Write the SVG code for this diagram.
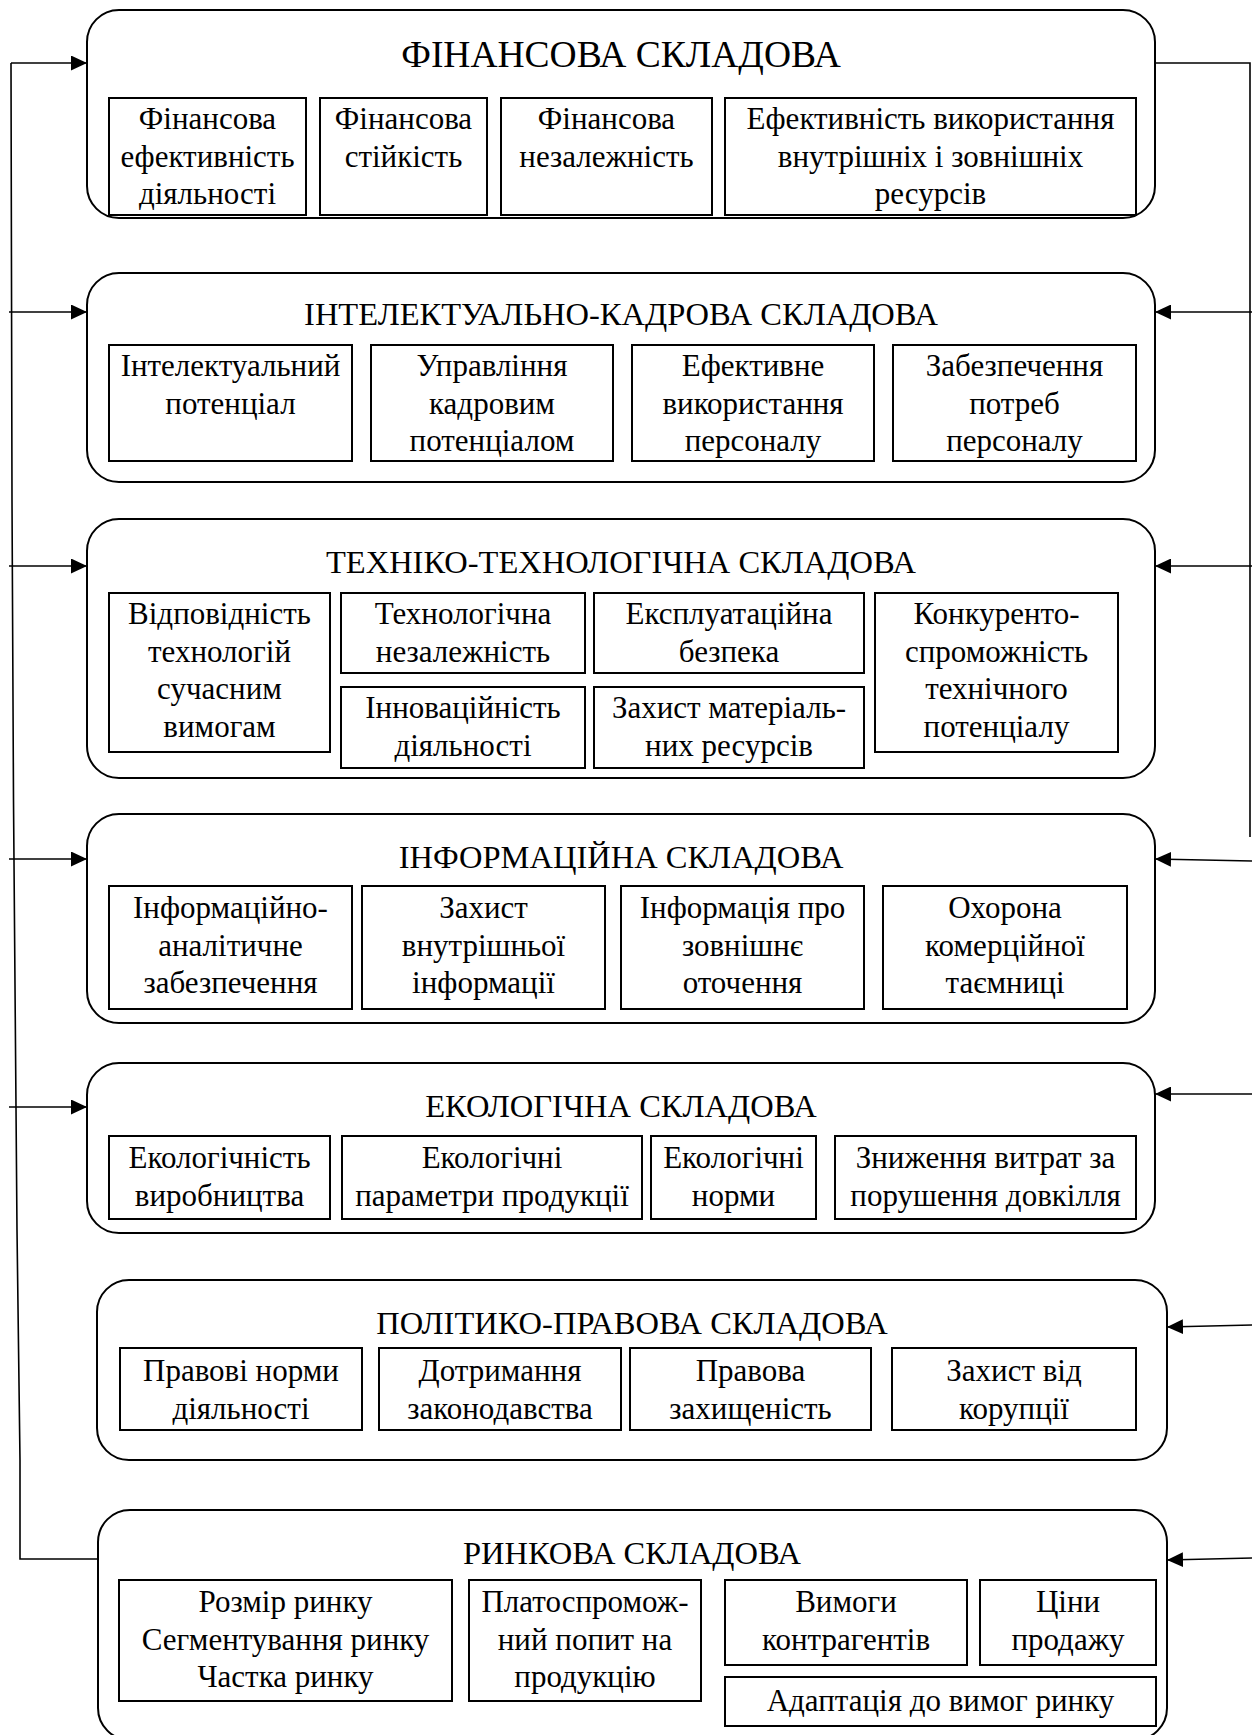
<svg xmlns="http://www.w3.org/2000/svg" width="1252" height="1735" viewBox="0 0 1252 1735">
  <style>
    .outer { fill: none; stroke: #000; stroke-width: 2; }
    .cell { fill: #fff; stroke: #000; stroke-width: 2; }
    .title { font-family: "Liberation Serif", "Times New Roman", serif; font-size: 32.5px; text-anchor: middle; fill: #000; }
    .t1 { font-size: 37.5px; }
    .txt { font-family: "Liberation Serif", "Times New Roman", serif; font-size: 31px; text-anchor: middle; fill: #000; }
    .wire { fill: none; stroke: #000; stroke-width: 1.6; }
  </style>
  <defs>
    <marker id="arrow" markerUnits="userSpaceOnUse" markerWidth="17" markerHeight="15" refX="16" refY="7.5" orient="auto">
      <path d="M0,0 L16,7.5 L0,15 z" fill="#000"/>
    </marker>
  </defs>
  <rect width="1252" height="1735" fill="#fff"/>

  <!-- connectors -->
  <g id="connectors">
    <polyline class="wire" points="11,63 12,500 13.5,800 17,1230 20,1460 20,1559 98,1559"/>
    <line class="wire" x1="11" y1="63" x2="87" y2="63" marker-end="url(#arrow)"/>
    <line class="wire" x1="9" y1="312" x2="87" y2="312" marker-end="url(#arrow)"/>
    <line class="wire" x1="9" y1="566" x2="87" y2="566" marker-end="url(#arrow)"/>
    <line class="wire" x1="9" y1="859" x2="87" y2="859" marker-end="url(#arrow)"/>
    <line class="wire" x1="9" y1="1107" x2="87" y2="1107" marker-end="url(#arrow)"/>

    <polyline class="wire" points="1155,63 1250,63 1250,837"/>
    <line class="wire" x1="1252" y1="312" x2="1155" y2="312" marker-end="url(#arrow)"/>
    <line class="wire" x1="1252" y1="566" x2="1155" y2="566" marker-end="url(#arrow)"/>
    <line class="wire" x1="1252" y1="861" x2="1155" y2="859" marker-end="url(#arrow)"/>
    <line class="wire" x1="1252" y1="1094" x2="1155" y2="1094" marker-end="url(#arrow)"/>
    <line class="wire" x1="1252" y1="1325" x2="1167" y2="1327" marker-end="url(#arrow)"/>
    <line class="wire" x1="1252" y1="1558" x2="1167" y2="1560" marker-end="url(#arrow)"/>
  </g>

  <!-- financial component -->
  <g id="financial">
    <rect class="outer" x="87" y="10" width="1068" height="208" rx="32"/>
    <text class="title t1" x="621" y="67">ФІНАНСОВА СКЛАДОВА</text>
    <rect class="cell" x="109" y="98" width="197" height="117"/>
    <text class="txt" x="207.5" y="129"><tspan x="207.5">Фінансова</tspan><tspan x="207.5" dy="37.5">ефективність</tspan><tspan x="207.5" dy="37.5">діяльності</tspan></text>
    <rect class="cell" x="320" y="98" width="167" height="117"/>
    <text class="txt" x="403.5" y="129"><tspan x="403.5">Фінансова</tspan><tspan x="403.5" dy="37.5">стійкість</tspan></text>
    <rect class="cell" x="501" y="98" width="211" height="117"/>
    <text class="txt" x="606.5" y="129"><tspan x="606.5">Фінансова</tspan><tspan x="606.5" dy="37.5">незалежність</tspan></text>
    <rect class="cell" x="725" y="98" width="411" height="117"/>
    <text class="txt" x="930.5" y="129"><tspan x="930.5">Ефективність використання</tspan><tspan x="930.5" dy="37.5">внутрішніх і зовнішніх</tspan><tspan x="930.5" dy="37.5">ресурсів</tspan></text>
  </g>

  <!-- intellectual and staff component -->
  <g id="personnel">
    <rect class="outer" x="87" y="273" width="1068" height="209" rx="32"/>
    <text class="title" x="621" y="325">ІНТЕЛЕКТУАЛЬНО-КАДРОВА СКЛАДОВА</text>
    <rect class="cell" x="109" y="345" width="243" height="116"/>
    <text class="txt" x="230.5" y="376"><tspan x="230.5">Інтелектуальний</tspan><tspan x="230.5" dy="37.5">потенціал</tspan></text>
    <rect class="cell" x="371" y="345" width="242" height="116"/>
    <text class="txt" x="492" y="376"><tspan x="492">Управління</tspan><tspan x="492" dy="37.5">кадровим</tspan><tspan x="492" dy="37.5">потенціалом</tspan></text>
    <rect class="cell" x="632" y="345" width="242" height="116"/>
    <text class="txt" x="753" y="376"><tspan x="753">Ефективне</tspan><tspan x="753" dy="37.5">використання</tspan><tspan x="753" dy="37.5">персоналу</tspan></text>
    <rect class="cell" x="893" y="345" width="243" height="116"/>
    <text class="txt" x="1014.5" y="376"><tspan x="1014.5">Забезпечення</tspan><tspan x="1014.5" dy="37.5">потреб</tspan><tspan x="1014.5" dy="37.5">персоналу</tspan></text>
  </g>

  <!-- technical and technological component -->
  <g id="technical">
    <rect class="outer" x="87" y="519" width="1068" height="259" rx="32"/>
    <text class="title" x="621" y="573">ТЕХНІКО-ТЕХНОЛОГІЧНА СКЛАДОВА</text>
    <rect class="cell" x="109" y="593" width="221" height="159"/>
    <text class="txt" x="219.5" y="624"><tspan x="219.5">Відповідність</tspan><tspan x="219.5" dy="37.5">технологій</tspan><tspan x="219.5" dy="37.5">сучасним</tspan><tspan x="219.5" dy="37.5">вимогам</tspan></text>
    <rect class="cell" x="341" y="593" width="244" height="80"/>
    <text class="txt" x="463" y="624"><tspan x="463">Технологічна</tspan><tspan x="463" dy="37.5">незалежність</tspan></text>
    <rect class="cell" x="341" y="687" width="244" height="81"/>
    <text class="txt" x="463" y="718"><tspan x="463">Інноваційність</tspan><tspan x="463" dy="37.5">діяльності</tspan></text>
    <rect class="cell" x="594" y="593" width="270" height="80"/>
    <text class="txt" x="729" y="624"><tspan x="729">Експлуатаційна</tspan><tspan x="729" dy="37.5">безпека</tspan></text>
    <rect class="cell" x="594" y="687" width="270" height="81"/>
    <text class="txt" x="729" y="718"><tspan x="729">Захист матеріаль-</tspan><tspan x="729" dy="37.5">них ресурсів</tspan></text>
    <rect class="cell" x="875" y="593" width="243" height="159"/>
    <text class="txt" x="996.5" y="624"><tspan x="996.5">Конкуренто-</tspan><tspan x="996.5" dy="37.5">спроможність</tspan><tspan x="996.5" dy="37.5">технічного</tspan><tspan x="996.5" dy="37.5">потенціалу</tspan></text>
  </g>

  <!-- information component -->
  <g id="information">
    <rect class="outer" x="87" y="814" width="1068" height="209" rx="32"/>
    <text class="title" x="621" y="868">ІНФОРМАЦІЙНА СКЛАДОВА</text>
    <rect class="cell" x="109" y="886" width="243" height="123"/>
    <text class="txt" x="230.5" y="918"><tspan x="230.5">Інформаційно-</tspan><tspan x="230.5" dy="37.5">аналітичне</tspan><tspan x="230.5" dy="37.5">забезпечення</tspan></text>
    <rect class="cell" x="362" y="886" width="243" height="123"/>
    <text class="txt" x="483.5" y="918"><tspan x="483.5">Захист</tspan><tspan x="483.5" dy="37.5">внутрішньої</tspan><tspan x="483.5" dy="37.5">інформації</tspan></text>
    <rect class="cell" x="621" y="886" width="243" height="123"/>
    <text class="txt" x="742.5" y="918"><tspan x="742.5">Інформація про</tspan><tspan x="742.5" dy="37.5">зовнішнє</tspan><tspan x="742.5" dy="37.5">оточення</tspan></text>
    <rect class="cell" x="883" y="886" width="244" height="123"/>
    <text class="txt" x="1005" y="918"><tspan x="1005">Охорона</tspan><tspan x="1005" dy="37.5">комерційної</tspan><tspan x="1005" dy="37.5">таємниці</tspan></text>
  </g>

  <!-- ecological component -->
  <g id="ecological">
    <rect class="outer" x="87" y="1063" width="1068" height="170" rx="32"/>
    <text class="title" x="621" y="1117">ЕКОЛОГІЧНА СКЛАДОВА</text>
    <rect class="cell" x="109" y="1136" width="221" height="83"/>
    <text class="txt" x="219.5" y="1168"><tspan x="219.5">Екологічність</tspan><tspan x="219.5" dy="37.5">виробництва</tspan></text>
    <rect class="cell" x="342" y="1136" width="300" height="83"/>
    <text class="txt" x="492" y="1168"><tspan x="492">Екологічні</tspan><tspan x="492" dy="37.5">параметри продукції</tspan></text>
    <rect class="cell" x="651" y="1136" width="165" height="83"/>
    <text class="txt" x="733.5" y="1168"><tspan x="733.5">Екологічні</tspan><tspan x="733.5" dy="37.5">норми</tspan></text>
    <rect class="cell" x="835" y="1136" width="301" height="83"/>
    <text class="txt" x="985.5" y="1168"><tspan x="985.5">Зниження витрат за</tspan><tspan x="985.5" dy="37.5">порушення довкілля</tspan></text>
  </g>

  <!-- political and legal component -->
  <g id="legal">
    <rect class="outer" x="97" y="1280" width="1070" height="180" rx="32"/>
    <text class="title" x="632" y="1334">ПОЛІТИКО-ПРАВОВА СКЛАДОВА</text>
    <rect class="cell" x="120" y="1348" width="242" height="82"/>
    <text class="txt" x="241" y="1381"><tspan x="241">Правові норми</tspan><tspan x="241" dy="37.5">діяльності</tspan></text>
    <rect class="cell" x="379" y="1348" width="242" height="82"/>
    <text class="txt" x="500" y="1381"><tspan x="500">Дотримання</tspan><tspan x="500" dy="37.5">законодавства</tspan></text>
    <rect class="cell" x="630" y="1348" width="241" height="82"/>
    <text class="txt" x="750.5" y="1381"><tspan x="750.5">Правова</tspan><tspan x="750.5" dy="37.5">захищеність</tspan></text>
    <rect class="cell" x="892" y="1348" width="244" height="82"/>
    <text class="txt" x="1014" y="1381"><tspan x="1014">Захист від</tspan><tspan x="1014" dy="37.5">корупції</tspan></text>
  </g>

  <!-- market component -->
  <g id="market">
    <rect class="outer" x="98" y="1510" width="1069" height="230" rx="32"/>
    <text class="title" x="632" y="1564">РИНКОВА СКЛАДОВА</text>
    <rect class="cell" x="119" y="1580" width="333" height="121"/>
    <text class="txt" x="285.5" y="1612"><tspan x="285.5">Розмір ринку</tspan><tspan x="285.5" dy="37.5">Сегментування ринку</tspan><tspan x="285.5" dy="37.5">Частка ринку</tspan></text>
    <rect class="cell" x="469" y="1580" width="232" height="121"/>
    <text class="txt" x="585" y="1612"><tspan x="585">Платоспромож-</tspan><tspan x="585" dy="37.5">ний попит на</tspan><tspan x="585" dy="37.5">продукцію</tspan></text>
    <rect class="cell" x="725" y="1580" width="242" height="85"/>
    <text class="txt" x="846" y="1612"><tspan x="846">Вимоги</tspan><tspan x="846" dy="37.5">контрагентів</tspan></text>
    <rect class="cell" x="980" y="1580" width="176" height="85"/>
    <text class="txt" x="1068" y="1612"><tspan x="1068">Ціни</tspan><tspan x="1068" dy="37.5">продажу</tspan></text>
    <rect class="cell" x="725" y="1677" width="431" height="49"/>
    <text class="txt" x="940.5" y="1711">Адаптація до вимог ринку</text>
  </g>
</svg>
